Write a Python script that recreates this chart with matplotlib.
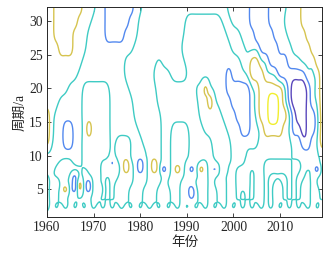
import numpy as np
import matplotlib
matplotlib.use("Agg")
import matplotlib.pyplot as plt

# ---------------- data ----------------
years = np.arange(1960, 2020)
periods_low = [1, 2, 3, 4, 5, 6, 7, 8, 9, 10]
periods_high = [12, 14, 16, 18, 20, 22, 24, 26, 28, 30, 32]

# cell codes (sign / strength of the wavelet real part)
code_values = {"P": -2.6, "B": -1.6, "c": -1.3, "-": -0.5,
               "+": 0.5, "y": 1.3, "Y": 1.6, "W": 2.6}

# lower part: one string per year, periods 1..10 (bottom -> top)
low_cols = [
    "-++++++---", "----------", "-++--c++--", "---++++++-", "-+++Y++++-",
    "-------++-", "-++-BBB+--", "---+YY++--", "-++-----++", "----BB-+++",
    "-+++++++++", "---+y+++++", "-++------+", "---++++--+", "-++-----c-",
    "---+++---+", "-+++++++++", "---++++YY+", "-++--++++-", "----------",
    "-++----BB-", "---++-----", "-+++++++++", "---++++YY+", "-++--+++++",
    "-------B--", "-++--+----", "---+++++++", "-++++++Y++", "------++++",
    "-++------+", "---BB--c--", "-++--+----", "---++++Y+-", "-++++++++-",
    "----------", "-++--+-c-+", "---++++-++", "-++++++y++", "--------++",
    "-++-------", "---+++++--", "-++--+++--", "---+++++++", "-++-----++",
    "---+++++++", "-+++++++++", "---------+", "-++++++--+", "------+--+",
    "-++---+--+", "---++++--+", "-++------+", "---++++++-", "-++----++-",
    "---+++----", "-+++++++--", "----------", "-++--+-B--", "---+++++++",
]

# upper part: one string per period row (12 .. 32), years 1960..2019
high_rows = [
    "Y+--BB--++ ++++-++++- -++++--+++ +-----++++ ------++++ +++--BB-+Y",  # 12
    "Y+--BB--+Y ++++------ +++++--+++ +---+++++- --BB--+YYY Y+-BBPBB-Y",  # 14
    "Y+------++ ++++-----+ +++++----- ---+++++-- -BBB-+YYWW YY+BPPBB-Y",  # 16
    "+++-----++ ++++-----+ ++++------ ---++Y+--- BBBB-+YYWW Y+BPPPB-+Y",  # 18
    "+++++---++ ++++----++ ++++------ --++Y+---B BBBB-+YYYY Y+BPPPB-+Y",  # 20
    "+++++++--- -------+++ +++----+++ +--------B ---+YYY++- BBBBBB--+Y",  # 22
    "++++++++-- -------+++ ++++-+++++ ---------- --++YY+-BB BB---+++YY",  # 24
    "+++YYY+++- ---------+ +++++++++- ---------- +++---BBBB ---++++YYY",  # 26
    "++YYYY+++- ---BBBB--- ++++++++++ ---------+ ++---BBBB- --++++YYYY",  # 28
    "++YYYYY+++ ---BBBBB-- ++++++++++ --------++ ----BBBB-- -++++YYYYY",  # 30
    "++YYYYYY++ +--BBBBBB- -+++++++++ +++++++++- ----BBBB-- --+++YYYYY",  # 32
]

levels = [-2, -1, 0, 1, 2]
level_colors = ["#5a48bc", "#5389ef", "#3fcbc4", "#d6c450", "#f1ee2e"]
x_ticks = [1960, 1970, 1980, 1990, 2000, 2010]
y_ticks = [5, 10, 15, 20, 25, 30]
x_label = "年份"
y_label = "周期/a"

# ---------------- build field ----------------
for r in high_rows:
    assert len(r.replace(" ", "")) == len(years), r
for c in low_cols:
    assert len(c) == len(periods_low), c
low = np.array([[code_values[ch] for ch in col] for col in low_cols]).T
high = np.array([[code_values[ch] for ch in row.replace(" ", "")] for row in high_rows])
Z = np.vstack([low, high])
periods = np.array(periods_low + periods_high, dtype=float)

S = 0.5 * np.sign(Z)      # sign pattern (zero contours)
D = Z - S                 # extra strength (coloured blobs)


def cubic_resample(A, n, axis):
    """Catmull-Rom resampling of the cell grid (smooth drawing of the grid)."""
    N = A.shape[axis]
    t = np.linspace(0, N - 1, (N - 1) * n + 1)
    i = np.clip(np.floor(t).astype(int), 0, N - 2)
    u = t - i
    w = [(-u**3 + 2 * u**2 - u) / 2, (3 * u**3 - 5 * u**2 + 2) / 2,
         (-3 * u**3 + 4 * u**2 + u) / 2, (u**3 - u**2) / 2]
    out = 0
    for k in range(4):
        idx = np.clip(i - 1 + k, 0, N - 1)
        shape = [1] * A.ndim
        shape[axis] = -1
        out = out + np.take(A, idx, axis=axis) * w[k].reshape(shape)
    return out, t


def soften(A, sigma, axis):
    r = int(np.ceil(3 * sigma))
    k = np.exp(-0.5 * (np.arange(-r, r + 1) / sigma) ** 2)
    k /= k.sum()
    pad = [(0, 0)] * A.ndim
    pad[axis] = (r, r)
    Ap = np.pad(A, pad, mode="edge")
    return np.apply_along_axis(lambda v: np.convolve(v, k, mode="valid"), axis, Ap)


n = 6
def render(A, sx, sy):
    F, tx = cubic_resample(A, n, 1)
    F, ty = cubic_resample(F, n, 0)
    F = soften(soften(F, sx * n, 1), sy * n, 0)
    return F, tx, ty


Fs, tx, ty = render(S, 0.6, 0.7)
Fd, _, _ = render(D, 0.25, 0.3)
F = Fs + Fd
xf = np.interp(tx, np.arange(len(years)), years)
yf = np.interp(ty, np.arange(len(periods)), periods)

# ---------------- draw ----------------
fig = plt.figure(figsize=(3.30, 2.56), dpi=100)
ax = fig.add_axes([47 / 330, 39 / 256, 275 / 330, 210 / 256])
ax.contour(xf, yf, F, levels=levels, colors=level_colors, linewidths=1.0)

ax.set_xlim(1960, 2019)
ax.set_ylim(0.9, 32.1)
ax.set_xticks(x_ticks)
ax.set_yticks(y_ticks)
serif = ["Liberation Serif", "Noto Sans CJK SC"]
ax.set_xticklabels([str(v) for v in x_ticks], family=serif, fontsize=9.8)
ax.set_yticklabels([str(v) for v in y_ticks], family=serif, fontsize=9.8)
ax.tick_params(direction="in", length=3, width=0.6, top=True, right=True,
               colors="#262626", pad=3)
for s in ax.spines.values():
    s.set_linewidth(0.7)
    s.set_color("#262626")
ax.set_xlabel(x_label, family=serif, fontsize=9.8, labelpad=1, color="#262626")
ax.set_ylabel(y_label, family=serif, fontsize=9.8, labelpad=2, color="#262626")

fig.savefig("out.png", dpi=100)
